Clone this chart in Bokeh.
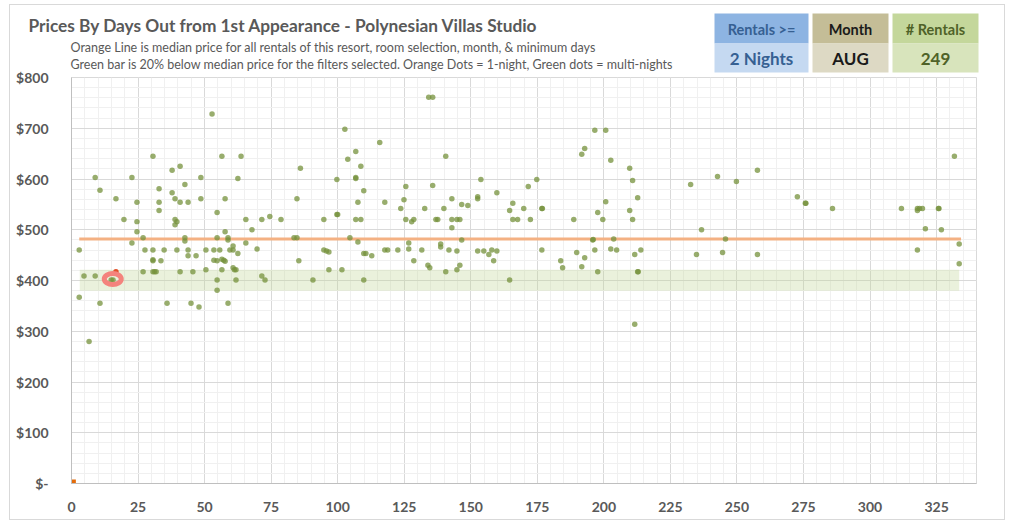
from bokeh.plotting import figure
from bokeh.layouts import column, row
from bokeh.models import FixedTicker, Range1d
from bokeh.core.properties import value
from bokeh.embed import file_html
from bokeh.resources import INLINE

FONT = 'Lato'
GREY = '#595959'

# ---- data ----
green_days = [
    52.8, 30.6, 56.5, 63.7, 40.8, 37.8, 8.9, 22.7, 48.6, 62.5, 86.0,
    10.7, 32.9, 42.6, 37.8, 16.7, 24.6, 32.9, 38.9, 40.8, 43.8, 48.6, 57.7, 84.7,
    32.9, 54.7, 19.7, 24.6, 38.9, 39.6, 38.9, 65.5, 71.5, 74.5, 78.7, 67.8, 24.6, 57.7,
    26.9, 42.6, 42.6, 54.7, 58.8, 58.8, 83.6, 84.7, 22.7, 65.5,
    2.9, 27.6, 30.6, 34.8, 39.6, 43.8, 50.5, 53.5, 55.7, 59.5, 60.7, 60.7, 69.7, 62.5, 43.8, 46.8,
    30.6, 30.6, 33.6, 53.5, 54.7, 56.5, 57.2, 57.7, 85.4,
    26.9, 30.6, 31.2, 31.8, 40.8, 45.6, 50.5, 56.5, 60.7, 61.2, 61.8,
    4.7, 8.9, 14.9, 15.6, 54.7, 61.8, 71.5, 72.7,
    2.9, 54.7, 10.7, 35.9, 44.9, 58.8, 47.9, 6.6,
    134.2, 135.7, 102.7, 115.8, 106.8, 103.8, 108.7, 140.6,
    99.7, 106.8, 106.8, 153.8, 109.8, 125.6, 135.7, 159.8, 171.6,
    107.6, 117.7, 124.9, 142.9, 146.6, 148.9, 152.6, 152.6, 165.8, 164.6, 169.9, 123.7, 132.7, 139.9,
    99.7, 100.0, 94.8, 106.8, 108.7, 125.6, 127.8, 128.6, 136.9, 137.6, 142.9, 144.8, 145.9, 142.9,
    165.8, 167.6, 172.4,
    104.6, 107.6, 146.6, 126.7, 138.7, 138.7,
    94.8, 95.8, 96.7, 117.7, 118.8, 122.6, 126.7, 131.6, 141.8, 144.8, 152.6, 154.9, 157.9, 159.8,
    156.8, 158.6,
    109.8, 110.6, 112.8, 128.6, 133.9, 134.6, 145.9, 144.8, 140.6, 96.7, 101.6,
    90.7, 109.8, 164.6,
    196.6, 200.7, 192.8, 191.7, 202.6, 209.7, 210.8, 174.8, 212.7, 200.7,
    176.7, 176.9, 197.7, 209.7, 188.7, 199.6, 210.8, 236.7, 232.6, 242.7, 249.8, 257.7,
    195.8, 196.0, 203.7, 245.7, 176.7, 189.8, 192.8, 196.6, 202.6, 204.8, 211.6, 213.9,
    183.8, 184.5, 191.7, 197.7, 212.7, 212.9, 211.6, 234.8, 244.6, 257.7,
    331.7, 272.7, 275.7, 275.9, 285.9, 311.8, 317.8, 318.6, 319.7, 317.8, 325.7, 325.9,
    320.8, 326.8, 333.5, 317.8, 333.5,
]
green_prices = [
    728, 645, 645, 645, 625, 617, 603, 603, 603, 601, 621,
    578, 581, 589, 573, 561, 554, 554, 561, 554, 554, 561, 561, 561,
    538, 534, 520, 516, 520, 516, 510, 520, 520, 526, 520, 500, 496, 496,
    484, 484, 478, 484, 484, 480, 484, 484, 474, 474,
    460, 460, 460, 460, 460, 460, 460, 460, 460, 460, 460, 468, 462, 453, 449, 449,
    441, 439, 439, 440, 439, 442, 440, 438, 439,
    417, 417, 417, 417, 417, 417, 421, 421, 425, 421, 421,
    409, 409, 401, 401, 401, 401, 409, 401,
    367, 381, 355, 355, 355, 355, 348, 280,
    761, 761, 698, 672, 654, 639, 625, 645,
    599, 603, 601, 599, 577, 585, 587, 573, 585,
    554, 554, 559, 561, 550, 548, 565, 561, 552, 538, 542, 542, 542, 542,
    530, 530, 520, 520, 520, 520, 516, 520, 520, 520, 520, 520, 520, 504,
    520, 520, 520,
    484, 476, 480, 474, 472, 466,
    460, 458, 456, 460, 460, 460, 462, 460, 460, 458, 458, 458, 460, 458,
    451, 439,
    453, 453, 449, 439, 430, 425, 430, 421, 417, 421, 421,
    401, 401, 401,
    696, 696, 660, 649, 637, 621, 597, 599, 563, 555,
    542, 542, 534, 538, 520, 520, 520, 500, 589, 605, 595, 617,
    480, 481, 482, 482, 460, 455, 445, 460, 462, 460, 451, 460,
    439, 425, 427, 417, 417, 417, 314, 451, 455, 451,
    645, 565, 552, 552, 542, 542, 542, 542, 542, 538, 542, 542,
    502, 500, 472, 460, 433,
]

# 1-night rentals (orange)
orange_days = [16.7]
orange_prices = [417]
placeholder_days = [0.7]
placeholder_prices = [3]

# median line and the "20% below" bar
median_price = 482
median_days = [2.9, 334.2]
band_days = [3.1, 333.5]
band_low = 380
band_high = 421

# circled rental
highlight_days = [15.5]
highlight_prices = [403]

day_ticks = list(range(0, 326, 25))
price_ticks = list(range(0, 801, 100))
price_labels = ['$-'] + ['$' + str(v) for v in price_ticks[1:]]

title_text = 'Prices By Days Out from 1st Appearance - Polynesian Villas Studio'
sub_1 = 'Orange Line is median price for all rentals of this resort, room selection, month, & minimum days'
sub_2 = 'Green bar is 20% below median price for the filters selected. Orange Dots = 1-night, Green dots = multi-nights'

box_heads = ['Rentals >=', 'Month', '# Rentals']
box_values = ['2 Nights', 'AUG', '249']

# ---- layout (page pixels) ----
X0, Y0 = 10, 5          # top-left corner of the chart border
X1, Y1 = 1004, 519      # bottom-right corner
SPLIT = 76              # bottom of the header canvas
OVERLAP = 8             # plot canvas slides up under the header by this much
W = X1 - X0

# ---- header: title, notes and the filter boxes ----
head = figure(
    width=W, height=SPLIT - Y0,
    x_range=Range1d(X0, X1), y_range=Range1d(SPLIT, Y0),
    x_axis_location=None, y_axis_location=None,
    min_border=0, toolbar_location=None, tools='',
    output_backend='svg',
)
head.grid.visible = False
head.outline_line_color = None

head.text(x=[28], y=[24.5], text=[title_text], text_font=value(FONT),
          text_font_style='bold', text_font_size='17.3px', text_color=GREY,
          text_baseline='middle')
head.text(x=[70, 70], y=[47, 64], text=[sub_1, sub_2], text_font=value(FONT),
          text_font_size='12.5px', text_color=GREY, text_baseline='middle')

box_lefts = [714, 812, 892]
box_rights = [808, 888, 978]
head_colors = ['#8db4e2', '#c4bd97', '#c4d79b']
body_colors = ['#c5d9f1', '#ddd9c4', '#d8e4bc']
text_colors = ['#366092', '#1a1a1a', '#4f6228']
head.quad(left=box_lefts, right=box_rights, top=[13] * 3, bottom=[43] * 3,
          fill_color=head_colors, line_color=None)
head.quad(left=box_lefts, right=box_rights, top=[43] * 3, bottom=[72] * 3,
          fill_color=body_colors, line_color=None)
centres = [(a + b) / 2 for a, b in zip(box_lefts, box_rights)]
head.text(x=centres, y=[28.5] * 3, text=box_heads, text_font=value(FONT),
          text_font_style='bold', text_font_size='14.5px', text_color=text_colors,
          text_align='center', text_baseline='middle')
head.text(x=centres, y=[58] * 3, text=box_values, text_font=value(FONT),
          text_font_style='bold', text_font_size='17px', text_color=text_colors,
          text_align='center', text_baseline='middle')

# ---- main plot ----
top_y = SPLIT - OVERLAP
p = figure(
    width=W, height=Y1 - top_y,
    x_range=(0, 340), y_range=(0, 800),
    min_border_left=61, min_border_right=28,
    min_border_top=77 - top_y, min_border_bottom=36,
    toolbar_location=None, tools='',
    output_backend='svg',
    margin=(-OVERLAP, 0, 0, 0),
)
p.border_fill_color = None

p.xaxis.ticker = FixedTicker(ticks=day_ticks, minor_ticks=list(range(0, 341, 5)))
p.yaxis.ticker = FixedTicker(ticks=price_ticks, minor_ticks=list(range(0, 801, 20)))
p.xgrid.grid_line_color = '#d9d9d9'
p.ygrid.grid_line_color = '#d9d9d9'
p.xgrid.minor_grid_line_color = '#f0f0f0'
p.ygrid.minor_grid_line_color = '#f0f0f0'
p.outline_line_color = '#d9d9d9'

p.yaxis.major_label_overrides = dict(zip(price_ticks, price_labels))
for ax in (p.xaxis, p.yaxis):
    ax.axis_line_color = '#bfbfbf'
    ax.major_tick_line_color = None
    ax.minor_tick_line_color = None
    ax.major_label_text_font = FONT
    ax.major_label_text_font_style = 'bold'
    ax.major_label_text_font_size = '14px'
    ax.major_label_text_color = GREY
p.xaxis.major_label_standoff = 12
p.yaxis.major_label_standoff = 17

p.quad(left=[band_days[0]], right=[band_days[1]], bottom=[band_low], top=[band_high],
       fill_color='#c4d79b', fill_alpha=0.35, line_color=None)
p.line(x=median_days, y=[median_price, median_price], line_color='#f4b183', line_width=3)
p.scatter(green_days, green_prices, size=5.5, fill_color='#76923c', fill_alpha=0.75,
          line_color=None)
p.scatter(orange_days, orange_prices, size=5.5, fill_color='#e2502a', line_color=None)
p.scatter(placeholder_days, placeholder_prices, marker='square', size=5,
          fill_color='#e46c0a', line_color=None)
p.ellipse(x=highlight_days, y=highlight_prices, width=17, height=11,
          width_units='screen', height_units='screen',
          fill_color=None, line_color='#f4837d', line_width=5)

# wrapping the header in its own row keeps its frame from being aligned with the plot's
layout = column(row(head), p, margin=(Y0, 0, 0, X0),
                styles={'outline': '1px solid #d9d9d9'})

open('out.html', 'w').write(file_html(layout, INLINE))
